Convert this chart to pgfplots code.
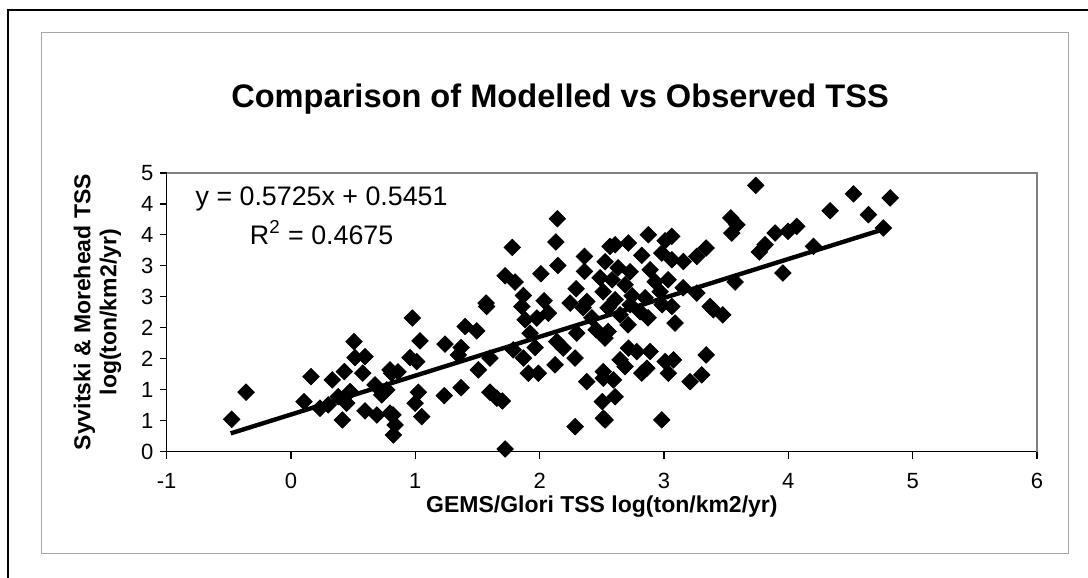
\documentclass[border=0pt]{standalone}
\usepackage{fontspec}
\setmainfont{Liberation Sans}
\usepackage{pgfplots}
\pgfplotsset{compat=1.18}

% observed (GEMS/Glori) vs modelled (Syvitski & Morehead), log(ton/km2/yr)
\pgfplotstableread{
x y
-0.477 0.521
-0.362 0.958
0.105 0.806
0.161 1.210
0.233 0.699
0.300 0.753
0.332 1.157
0.380 0.886
0.429 1.291
0.448 0.780
0.475 0.968
0.413 0.510
0.507 1.776
0.515 1.517
0.595 1.534
0.577 1.265
0.595 0.655
0.676 1.076
0.730 0.914
0.770 0.995
0.690 0.590
0.796 1.319
0.796 0.618
0.823 0.267
0.837 0.429
0.820 0.590
0.976 2.156
1.038 1.788
1.400 2.020
1.494 1.950
1.239 1.735
1.368 1.680
1.346 1.561
0.957 1.517
1.011 1.453
0.810 1.265
0.861 1.287
1.507 1.319
1.600 1.509
1.574 2.343
1.856 2.343
1.883 2.128
1.977 2.156
2.070 2.236
1.923 1.912
1.963 1.680
1.869 1.509
1.909 1.265
1.990 1.265
1.788 1.642
2.138 1.776
2.190 1.670
2.124 1.400
2.298 1.912
2.285 1.509
2.379 1.129
2.512 1.291
1.024 0.958
0.998 0.780
1.051 0.563
1.233 0.903
1.368 1.032
1.600 0.958
1.655 0.861
1.700 0.817
2.285 0.402
2.504 0.806
2.512 0.538
1.722 0.041
2.350 2.323
2.550 2.323
2.711 2.047
2.872 2.160
3.063 2.343
3.089 2.075
3.397 2.290
3.473 2.208
2.526 1.832
2.550 1.939
2.714 1.670
2.781 1.615
2.888 1.615
2.647 1.481
2.687 1.372
2.821 1.265
2.862 1.346
3.009 1.453
3.076 1.481
3.035 1.265
3.339 1.561
3.304 1.238
3.210 1.129
2.512 1.185
2.593 1.157
2.607 0.886
2.526 0.510
2.982 0.510
2.142 3.762
2.130 3.386
1.780 3.298
2.360 3.152
2.146 3.006
2.009 2.872
1.722 2.839
1.802 2.738
2.360 2.910
2.293 2.630
1.869 2.521
2.035 2.436
1.569 2.398
2.245 2.398
2.379 2.424
2.566 3.314
2.486 2.807
3.738 4.301
3.537 3.774
3.586 3.665
3.545 3.530
3.894 3.530
4.068 3.638
3.998 3.557
3.813 3.342
3.767 3.223
4.202 3.314
3.956 2.883
3.572 2.738
2.874 3.503
3.063 3.476
3.009 3.406
2.607 3.342
2.714 3.369
2.821 3.168
2.982 3.207
3.063 3.099
3.156 3.071
3.264 3.152
3.339 3.288
3.264 2.560
3.371 2.343
3.154 2.646
4.524 4.162
4.819 4.098
4.336 3.891
4.644 3.827
4.765 3.612
2.526 3.066
2.631 2.969
2.727 2.904
2.582 2.775
2.687 2.695
2.743 2.517
2.929 2.743
2.510 2.581
2.607 2.452
2.727 2.371
2.848 2.484
2.969 2.581
2.888 2.937
2.985 2.371
2.808 2.258
2.647 2.208
3.033 2.775
2.420 2.160
2.454 1.966
}\tssdata

\begin{document}
\begin{tikzpicture}
\useasboundingbox (0,0) rectangle (544pt,-289pt);
\draw[line width=1pt] (4pt,-289pt) -- (4pt,-5pt) -- (544pt,-5pt);
\draw[gray!70, line width=0.6pt] (20.8pt,-16.2pt) rectangle (534.35pt,-276.75pt);
\begin{axis}[
  at={(83.35pt,-225.75pt)}, anchor=south west,
  scale only axis, width=435.15pt, height=139.25pt,
  xmin=-1, xmax=6, ymin=0, ymax=4.5,
  clip=false,
  axis lines=left,
  axis line style={-, black, line width=0.7pt},
  xtick={-1,0,...,6},
  ytick={0,0.5,...,4.5},
  yticklabels={0,1,1,2,2,3,3,4,4,5},
  tick align=outside, major tick length=3.5pt,
  tick style={black, line width=0.6pt},
  /pgf/number format/assume math mode=true,
  tick label style={font=\fontsize{11}{13}\selectfont},
  xticklabel style={anchor=base, yshift=-15.1pt},
  yticklabel style={anchor=east, inner sep=0pt, xshift=-3pt},
  title={Comparison of Modelled vs Observed TSS},
  title style={at={(axis description cs:0.452,1)}, anchor=base, yshift=27pt,
    font=\bfseries\fontsize{16.3}{19}\selectfont},
  xlabel={GEMS/Glori TSS log(ton/km2/yr)},
  xlabel style={at={(axis description cs:0.5,-0.22)}, anchor=base,
    font=\bfseries\fontsize{11.5}{13}\selectfont},
  ylabel={Syvitski \& Morehead TSS\\log(ton/km2/yr)},
  ylabel style={at={(axis description cs:-0.0795,0.5)}, anchor=center, align=center,
    font=\bfseries\fontsize{11.5}{13}\selectfont},
]
\draw[gray, line width=0.6pt] (rel axis cs:0,1) -- (rel axis cs:1,1) -- (rel axis cs:1,0);
\addplot[only marks, mark=square*, mark size=2.9pt, mark options={rotate=45, black, fill=black}]
  table[x=x, y=y] {\tssdata};
\addplot[black, line width=2.2pt] coordinates {(-0.485,0.293) (4.765,3.591)};
\node[anchor=base, font=\fontsize{13.4}{15}\selectfont] at (axis description cs:0.178,0.8826) {y = 0.5725x + 0.5451};
\node[anchor=base, font=\fontsize{13.4}{15}\selectfont] at (axis description cs:0.178,0.744) {R\textsuperscript{2} = 0.4675};
\end{axis}
\end{tikzpicture}
\end{document}
